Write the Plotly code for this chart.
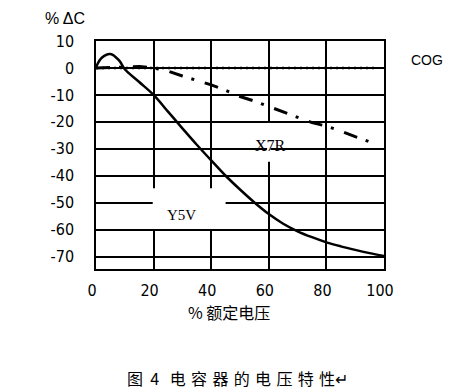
import plotly.graph_objects as go

# ---- data ----
y5v_x = [0, 2, 5, 8, 10, 15, 20, 25, 30, 35, 40, 45, 50, 55, 60, 65, 70, 75, 80, 85, 90, 95, 100]
y5v_y = [0.3, 3.8, 5.2, 2.8, -0.5, -5.2, -10, -16.2, -22.4, -28.5, -34.3, -40.0, -45.1, -49.9, -54.2,
         -57.8, -60.6, -62.8, -64.7, -66.2, -67.5, -68.7, -69.8]

x7r_x = [0, 5, 10, 15, 20, 25, 30, 35, 40, 45, 50, 55, 60, 65, 70, 75, 80, 85, 90, 95, 98]
x7r_y = [0, 0.2, 0.4, 0.5, 0, -1.2, -3, -4.6, -6.3, -8.3, -10.6, -12.3, -14.3, -16.2, -18.2,
         -20.3, -21.6, -23.4, -25.5, -27.4, -28.2]

cog_x = [0, 97]
cog_y = [0, 0]

x_ticks = [0, 20, 40, 60, 80, 100]
y_ticks = [10, 0, -10, -20, -30, -40, -50, -60, -70]

tick_font = dict(family="Liberation Sans Narrow, Arial Narrow, DejaVu Sans Condensed, Liberation Sans, sans-serif",
                 size=16, color="black")
serif = "Liberation Serif, Times New Roman, serif"
cjk = "Noto Sans CJK SC, sans-serif"

fig = go.Figure()

fig.add_trace(go.Scatter(x=cog_x, y=cog_y, mode="lines",
                         line=dict(color="black", width=2.5, dash="2px,4px"),
                         showlegend=False, hoverinfo="skip"))
fig.add_trace(go.Scatter(x=x7r_x, y=x7r_y, mode="lines",
                         line=dict(color="black", width=3, dash="14px,9px,3px,11px"),
                         showlegend=False, hoverinfo="skip"))
fig.add_trace(go.Scatter(x=y5v_x, y=y5v_y, mode="lines",
                         line=dict(color="black", width=2.5, shape="spline", smoothing=1.0),
                         showlegend=False, hoverinfo="skip"))

# white boxes behind the labels that interrupt grid lines
fig.add_shape(type="rect", x0=19.7, x1=45.0, y0=-59.8, y1=-44.6, layer="between",
              fillcolor="white", line=dict(width=0))
fig.add_shape(type="rect", x0=59.4, x1=60.6, y0=-34.8, y1=-20.4, layer="between",
              fillcolor="white", line=dict(width=0))

fig.update_xaxes(range=[0, 100], tickvals=x_ticks, ticktext=[str(v) for v in x_ticks],
                 showgrid=True, gridcolor="black", gridwidth=1.5, zeroline=False,
                 showline=True, linecolor="black", linewidth=1.5, mirror=True,
                 ticks="", tickfont=tick_font, ticklabelstandoff=6, ticklabelshift=-4)
fig.update_yaxes(range=[-74.6, 10], tickvals=y_ticks, ticktext=[str(v) for v in y_ticks],
                 showgrid=True, gridcolor="black", gridwidth=1.5, zeroline=False,
                 showline=True, linecolor="black", linewidth=1.5, mirror=True,
                 ticks="", tickfont=tick_font, ticklabelstandoff=17)

sp = "\u2004"
caption = "图" + "\u2005\u2009" + "4" + sp + sp + sp.join("电容器的电压特性") + "↵"

anns = [
    dict(text="% ΔC", x=-0.1076, y=1.0987, xref="paper", yref="paper",
         font=dict(family="Liberation Sans, sans-serif", size=16, color="black")),
    dict(text="COG", x=1.149, y=0.9167, xref="paper", yref="paper",
         font=dict(family="Liberation Sans, sans-serif", size=14, color="black")),
    dict(text="X7R", x=60.7, y=-28.8, xref="x", yref="y",
         font=dict(family=serif, size=16, color="black")),
    dict(text="Y5V", x=29.7, y=-54.4, xref="x", yref="y",
         font=dict(family=serif, size=15, color="black")),
    dict(text="% 额定电压", x=0.462, y=-0.1886, xref="paper", yref="paper",
         font=dict(family=cjk, size=16, color="black")),
    dict(text=caption, x=0.491, y=-0.478, xref="paper", yref="paper",
         font=dict(family=cjk, size=16, color="black")),
]
for a in anns:
    fig.add_annotation(showarrow=False, xanchor="center", yanchor="middle", **a)

fig.update_layout(width=452, height=390, margin=dict(l=96, r=68, t=41, b=121),
                  paper_bgcolor="white", plot_bgcolor="white")

fig.write_html("out.html", config={"displayModeBar": False},
               post_script="document.body.style.margin='0';document.body.style.overflow='hidden';")
